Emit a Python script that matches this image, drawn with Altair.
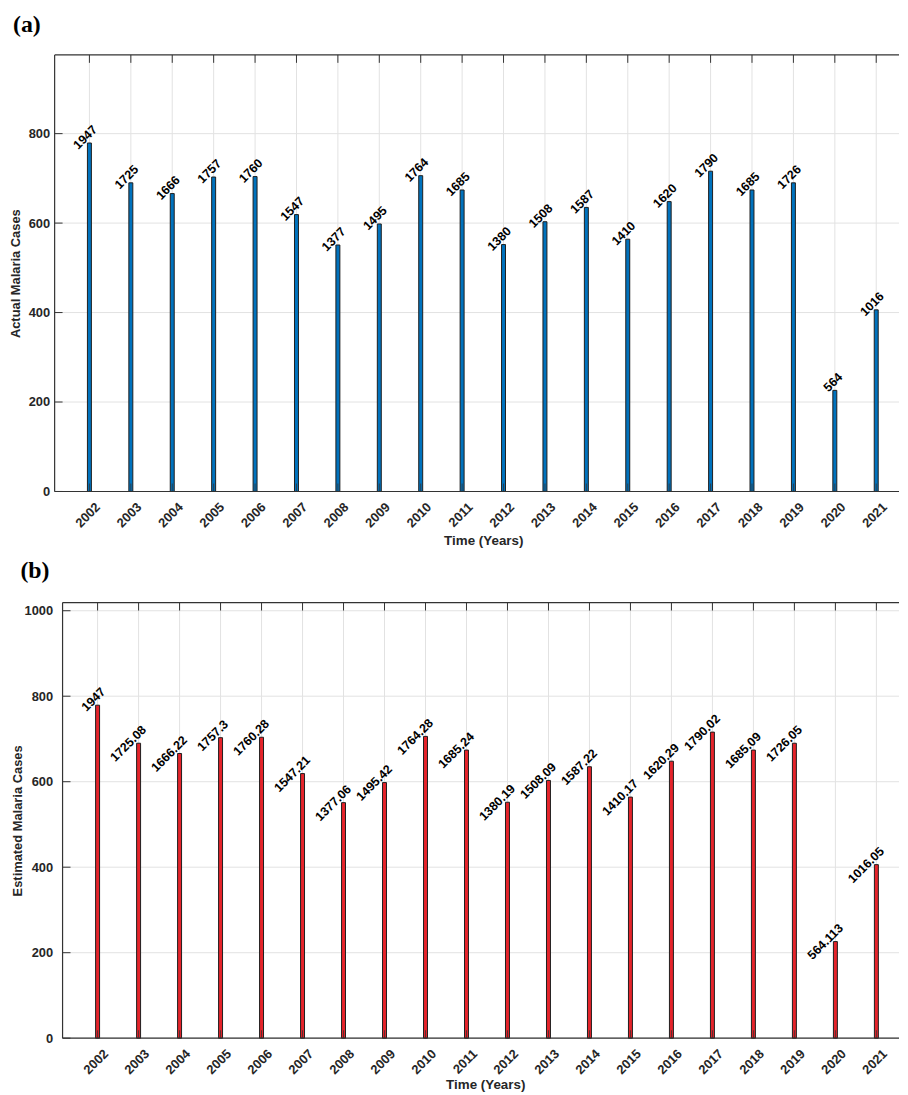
import altair as alt
import pandas as pd

# ---------------- data ----------------
years = [2002, 2003, 2004, 2005, 2006, 2007, 2008, 2009, 2010, 2011,
         2012, 2013, 2014, 2015, 2016, 2017, 2018, 2019, 2020, 2021]

actual_labels = ["1947", "1725", "1666", "1757", "1760", "1547", "1377", "1495", "1764", "1685",
                 "1380", "1508", "1587", "1410", "1620", "1790", "1685", "1726", "564", "1016"]
actual_bar_height = [779, 690, 666, 703, 704, 619, 551, 598, 706, 674,
                     552, 603, 635, 564, 648, 716, 674, 690, 226, 406]

estimated_labels = ["1947", "1725.08", "1666.22", "1757.3", "1760.28", "1547.21", "1377.06",
                    "1495.42", "1764.28", "1685.24", "1380.19", "1508.09", "1587.22", "1410.17",
                    "1620.29", "1790.02", "1685.09", "1726.05", "564.113", "1016.05"]
estimated_bar_height = [779, 690, 666, 703, 704, 619, 551, 598, 706, 674,
                        552, 603, 635, 564, 648, 716, 674, 690, 226, 406]

yticks_a = [0, 200, 400, 600, 800]
yticks_b = [0, 200, 400, 600, 800, 1000]

FONT = "Liberation Sans"
FRAME = "#333333"
GRID = "#e2e2e2"
W = 851


def panel(heights, labels, fill, ytitle, ydomain, yticks, xdomain, H, x0,
          ylabpad, ytitlex, xtitlex, xtitley, ptitle, pdx, poffset):
    bars_df = pd.DataFrame({"year": years, "h": heights, "label": labels})
    yr_df = pd.DataFrame({"year": years})
    yt_df = pd.DataFrame({"v": yticks})
    one = pd.DataFrame({"a": [0]})

    xs = alt.Scale(domain=xdomain, nice=False, zero=False, padding=0)
    ys = alt.Scale(domain=ydomain, nice=False, padding=0)

    xaxis = alt.Axis(values=years, format="d", labelAngle=315, domain=False, ticks=False,
                     grid=False, labelPadding=9, labelOffset=4, labelFont=FONT,
                     labelFontSize=13, labelFontWeight="bold", labelColor="#262626",
                     title="Time (Years)", titleFont=FONT, titleFontSize=13.5,
                     titleFontWeight="bold", titleColor="#262626",
                     titleX=xtitlex, titleY=xtitley, titleBaseline="middle")
    yaxis = alt.Axis(values=yticks, format="d", domain=False, ticks=False, grid=False,
                     offset=-x0, labelPadding=ylabpad, labelFont=FONT,
                     labelFontSize=13, labelFontWeight="bold", labelColor="#262626",
                     title=ytitle, titleFont=FONT, titleFontSize=13,
                     titleFontWeight="bold", titleColor="#262626",
                     titleX=ytitlex, titleY=H / 2, titleBaseline="middle")

    X = lambda: alt.X("year:Q", scale=xs, axis=xaxis, title="Time (Years)")

    vgrid = alt.Chart(yr_df).mark_rule(color=GRID, strokeWidth=1).encode(
        x=X(), y=alt.value(0), y2=alt.value(H))
    hgrid = alt.Chart(yt_df).mark_rule(color=GRID, strokeWidth=1).encode(
        y=alt.Y("v:Q", scale=ys, axis=yaxis, title=ytitle), x=alt.value(x0), x2=alt.value(W))

    bars = alt.Chart(bars_df).mark_bar(size=4, fill=fill, stroke="#1e1e1e", strokeWidth=1).encode(
        x=X(), y=alt.Y("h:Q", scale=ys, axis=yaxis, title=ytitle))

    text = alt.Chart(bars_df).mark_text(angle=315, align="right", baseline="middle", dx=15, dy=-7,
                                        font=FONT, fontSize=12.5, fontWeight="bold",
                                        color="black").encode(
        x=X(), y=alt.Y("h:Q", scale=ys, axis=yaxis, title=ytitle), text="label:N")

    top_ticks = alt.Chart(yr_df).mark_rule(color=FRAME, strokeWidth=1).encode(
        x=X(), y=alt.value(0), y2=alt.value(8))
    bot_ticks = alt.Chart(yr_df).mark_rule(color=FRAME, strokeWidth=1, opacity=0.8).encode(
        x=X(), y=alt.value(H - 8), y2=alt.value(H))
    left_ticks = alt.Chart(yt_df).mark_rule(color=FRAME, strokeWidth=1).encode(
        y=alt.Y("v:Q", scale=ys, axis=yaxis, title=ytitle), x=alt.value(x0), x2=alt.value(x0 + 8))

    frame_top = alt.Chart(one).mark_rule(color=FRAME, strokeWidth=1.2).encode(
        x=alt.value(x0), x2=alt.value(W), y=alt.value(0))
    frame_bot = alt.Chart(one).mark_rule(color=FRAME, strokeWidth=1.2).encode(
        x=alt.value(x0), x2=alt.value(W), y=alt.value(H))
    frame_left = alt.Chart(one).mark_rule(color=FRAME, strokeWidth=1.2).encode(
        x=alt.value(x0), y=alt.value(0), y2=alt.value(H))

    return alt.layer(vgrid, hgrid, bars, bot_ticks, top_ticks, left_ticks,
                     frame_top, frame_bot, frame_left, text).properties(
        width=W, height=H,
        title=alt.TitleParams(ptitle, anchor="start", frame="bounds", font="Liberation Serif",
                              fontSize=24, fontWeight="bold", color="black", offset=poffset,
                              dx=pdx))


top = panel(actual_bar_height, actual_labels, "#0072BD", "Actual Malaria Cases",
            [0, 976], yticks_a, [2001.16, 2021.55], 440, 0,
            5, -39, 432, 49.5, "(a)", 3, 17)
bottom = panel(estimated_bar_height, estimated_labels, "#E5242B", "Estimated Malaria Cases",
               [0, 1019], yticks_b, [2000.952, 2021.552], 439, 8,
               10, -45.5, 434, 47, "(b)", 9, 19)

chart = alt.vconcat(top, bottom, spacing=12).properties(
    padding={"left": 2, "top": 1, "right": 0, "bottom": 0}
).configure_view(stroke=None)

chart.save("out.html", embed_options={"renderer": "svg", "actions": False})
